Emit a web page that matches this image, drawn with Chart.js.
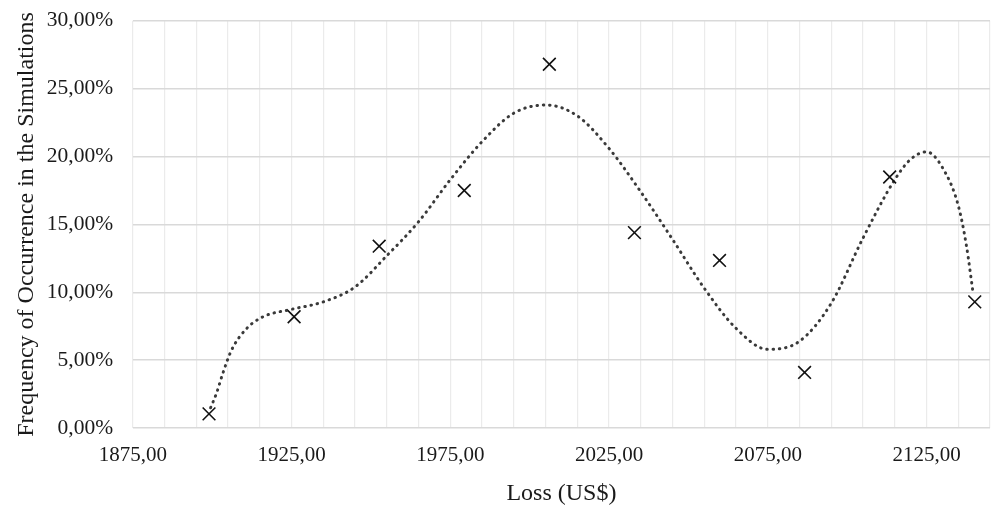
<!DOCTYPE html>
<html>
<head>
<meta charset="utf-8">
<script src="https://cdn.jsdelivr.net/npm/chart.js@4/dist/chart.umd.min.js"></script>
<style>
  body { margin: 0; background: #fff; }
  #wrap { width: 994px; height: 512px; }
</style>
</head>
<body>
<div id="wrap"><canvas id="graph"></canvas></div>
<script>
// simulated loss values (US$) and how often each occurred (%)
const lossX = [1899.0, 1925.8, 1952.6, 1979.4, 2006.2, 2033.0, 2059.8, 2086.6, 2113.4, 2140.2];
const freq = [1.05, 8.2, 13.4, 17.5, 26.8, 14.4, 12.35, 4.1, 18.5, 9.3];

// polynomial trendline
const trendX = [1899.5, 1901.4, 1903.3, 1906, 1910.7, 1916, 1925, 1935, 1945, 1955, 1965, 1975, 1985, 1995, 2005, 2015, 2025, 2035, 2045, 2055, 2065, 2075, 2085, 2095, 2105, 2115, 2120, 2125, 2130, 2135, 2137.6, 2139.7];
const trendY = [1.5, 2.6, 4.0, 5.7, 7.3, 8.2, 8.75, 9.3, 10.4, 12.7, 15.2, 18.3, 21.1, 23.2, 23.8, 23.0, 20.6, 17.4, 13.9, 10.3, 7.35, 5.8, 6.4, 9.2, 14.0, 18.3, 19.8, 20.35, 19.2, 16.4, 13.4, 9.9];

const xMin = 1875, xMax = 2145, xStep = 10, xLabelEvery = 50;
const yMin = 0, yMax = 30, yStep = 5;

const fmt = (v) => v.toFixed(2).replace(".", ",");

let graph = document.getElementById("graph").getContext("2d");
let lossChart = new Chart(graph, {
  type: "scatter",
  data: {
    datasets: [
      {
        label: "Trend",
        data: trendX.map((x, i) => ({ x: x, y: trendY[i] })),
        showLine: true,
        pointRadius: 0,
        borderColor: "#3a3a3a",
        borderWidth: 3,
        borderDash: [0.5, 5.8],
        borderCapStyle: "round",
        cubicInterpolationMode: "monotone",
        order: 2,
      },
      {
        label: "Frequency",
        data: lossX.map((x, i) => ({ x: x, y: freq[i] })),
        pointStyle: "crossRot",
        pointRadius: 9,
        pointBorderWidth: 1.6,
        pointBorderColor: "#111",
        borderColor: "#111",
        order: 1,
      },
    ],
  },
  options: {
    responsive: true,
    maintainAspectRatio: false,
    animation: false,
    layout: { autoPadding: false, padding: { top: 0, right: 4, left: 12, bottom: 3.5 } },
    plugins: {
      legend: { display: false },
      tooltip: { enabled: false },
    },
    scales: {
      x: {
        type: "linear",
        min: xMin,
        max: xMax,
        grid: { color: "#ebebeb", lineWidth: 1.2, drawTicks: false },
        border: { display: false },
        ticks: {
          stepSize: xStep,
          autoSkip: false,
          maxRotation: 0,
          padding: 0,
          color: "#1a1a1a",
          font: { family: "Liberation Serif", size: 21, lineHeight: 2.6 },
          callback: (v) => ((v - xMin) % xLabelEvery === 0 ? fmt(v) : ""),
        },
        title: {
          display: true,
          text: "Loss (US$)",
          color: "#1a1a1a",
          font: { family: "Liberation Serif", size: 24 },
          padding: { top: -3, bottom: 0 },
        },
      },
      y: {
        min: yMin,
        max: yMax,
        grid: { color: "#d9d9d9", lineWidth: 1.5, drawTicks: false },
        border: { display: false },
        ticks: {
          stepSize: yStep,
          padding: 9,
          color: "#1a1a1a",
          font: { family: "Liberation Serif", size: 21.5, lineHeight: 1.1 },
          callback: (v) => fmt(v) + "%  ",
        },
        title: {
          display: true,
          text: "Frequency of Occurrence in the Simulations",
          color: "#1a1a1a",
          font: { family: "Liberation Serif", size: 24 },
          padding: { top: 0, bottom: -3 },
        },
      },
    },
  },
});
</script>
</body>
</html>
